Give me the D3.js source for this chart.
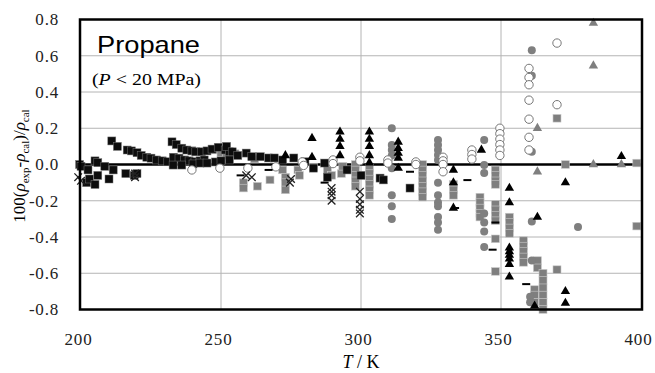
<!DOCTYPE html>
<html>
<head>
<meta charset="utf-8">
<script src="https://cdn.jsdelivr.net/npm/d3@7"></script>
<style>
	body { margin: 0; background: #fff; }
	svg { display: block; }
</style>
</head>
<body>
<div id="chart"></div>
<script>
//axis ticks
let xTicks = [200, 250, 300, 350, 400];
let yTicks = [-0.8, -0.6, -0.4, -0.2, 0.0, 0.2, 0.4, 0.6, 0.8];

//series, [T in K, deviation in %]
let blackSquares = [
	[199.5,0.0],[200.0,-0.01],[202.5,-0.03],[205,0.02],[206,0.01],[208.5,-0.01],[202,-0.10],[203,-0.08],[205,-0.11],
	[206,-0.06],[210,-0.08],[211.5,-0.03],[216,-0.05],[219,-0.06],[220,-0.05],
	[211,0.13],[213,0.10],[216.5,0.08],[218,0.075],[220,0.065],[221.5,0.05],[223.5,0.04],[225,0.035],[227,0.025],[229,0.02],[231,0.015],
	[232.5,0.125],[234,0.11],[236,0.09],[237.8,0.08],[239.6,0.075],[241,0.07],[243,0.07],[245,0.075],[246.8,0.085],[249,0.095],[251.5,0.08],[253,0.07],
	[233,0.04],[235,0.035],[237,0.025],[238.6,0.02],[240.7,0.015],[242.5,0.02],[244,0.025],
	[232.9,-0.003],[236,-0.003],[240,0.003],[242.5,0.008],[245,0.008],[248,0.014],[250,0.02],[253,0.025],
	[252,0.1],[254,0.07],[256,0.05],[259,0.063],[261,0.043],[264,0.043],[267,0.036],[269,0.036],[272,0.025],
	[276,0.036],[280,0.015],[283,-0.02],[287,0.008],[288,-0.07],[295,-0.03],[300,-0.06],[306.8,-0.075],[308,-0.085],[317.5,-0.13]
];
let graySquares = [
	[248,0.08],[250,0.065],[252,0.05],[255,0.06],[262,0.03],
	[258,-0.1],[258,-0.13],[263,-0.12],[267.5,-0.085],[272,-0.03],[273,-0.07],[273,-0.1],[273,-0.14],[277.5,-0.03],[278,-0.06],
	[283,-0.014],[288,-0.03],[289.5,-0.06],[293,-0.05],[293.5,-0.01],
	[298,0.0],[298,-0.03],[298,-0.06],[298,-0.09],[298,-0.12],
	[303,-0.02],[303,-0.05],[303,-0.08],[303,-0.11],[303,-0.14],[303,-0.17],
	[322,0.0],[322,-0.03],[322,-0.06],[322,-0.09],[322,-0.12],[322,-0.15],[322,-0.18],
	[333,-0.11],[333,-0.14],[333,-0.17],
	[342.5,-0.18],[342.5,-0.21],[342.5,-0.24],[342.5,-0.27],[342.5,-0.29],
	[348,-0.03],[348,-0.06],[348,-0.09],[348,-0.11],[348,-0.22],[348,-0.25],[348,-0.28],[348,-0.31],[348,-0.41],[348,-0.59],
	[353,-0.29],[353,-0.32],[353,-0.35],[353,-0.38],
	[358,-0.42],[358,-0.45],[358,-0.48],[358,-0.51],[358,-0.54],
	[363,-0.53],[363,-0.57],[362,-0.69],[362,-0.72],[362,-0.76],
	[365,-0.6],[365,-0.64],[365,-0.68],[365,-0.72],[365,-0.76],[365,-0.8],
	[370,-0.58],[370,0.255],[373,0.0],[398.5,0.008],[398.5,-0.34]
];
let grayCircles = [
	[311,0.2],[311,0.107],[311,0.08],[311,0.05],[311,-0.02],[311,-0.17],[311,-0.23],[311,-0.3],
	[327.5,0.135],[327.5,0.108],[327.5,0.08],[327.5,0.052],[327.5,0.025],[327.5,-0.1],[327.5,-0.17],[327.5,-0.21],
	[327.5,-0.23],[327.5,-0.29],[327.5,-0.32],[327.5,-0.36],
	[344,0.135],[344,-0.003],[344,-0.047],[344,-0.27],[344,-0.32],[344,-0.37],[344,-0.455],
	[361,-0.315],[361,-0.53],[360.4,-0.73],[360.4,-0.76],[361,0.63],[361,0.49],[361,0.07],[377.5,-0.345]
];
let openCircles = [
	[239.6,-0.03],[249.6,-0.02],[259.6,-0.02],[269.6,-0.013],[279,0.014],[279.5,-0.005],[290,0.025],[290,0.005],
	[299.6,0.04],[299.6,0.02],[309.6,0.025],[309.6,0.008],[319.6,0.014],[319.6,0.0],
	[329.3,0.04],[329.3,0.02],[329.3,0.0],[329.3,-0.04],[339.6,0.08],[339.6,0.055],[339.6,0.03],
	[349.6,0.2],[349.6,0.17],[349.6,0.14],[349.6,0.11],[349.6,0.08],[349.6,0.05],
	[360,0.53],[360,0.48],[360,0.44],[360,0.355],[360,0.25],[360,0.15],[360,0.08],[370,0.67],[370,0.33]
];
let blackTriangles = [
	[273,0.05],[282.5,0.145],[282.5,0.04],
	[292.5,0.18],[292.5,0.14],[292.5,0.1],[292.5,0.05],
	[303,0.18],[303,0.14],[303,0.1],[303,0.05],[303,0.01],
	[313.3,0.124],[313.3,0.09],[313.3,0.063],[313.3,0.036],[313.3,-0.02],
	[333,-0.03],[333,-0.1],[333,-0.24],[343,0.08],
	[353,-0.13],[353,-0.21],[353,-0.46],[353,-0.48],[353,-0.5],[353,-0.52],[353,-0.55],[353,-0.62],
	[363,-0.29],[362,-0.78],[373,-0.1],[373,-0.7],[373,-0.765],[393,0.045]
];
let grayTriangles = [
	[383,0.78],[383,0.545],[363,0.2],[383,0.0],[393,0.0],[363,-0.04]
];
let blackCrosses = [
	[199,-0.07],[200,-0.09],[219.3,-0.07],[219.3,-0.05],[259,-0.06],[261,-0.07],[274.6,-0.1],[275,-0.08],
	[289.5,-0.13],[289.5,-0.15],[289.5,-0.17],[289.5,-0.2],
	[299.6,-0.15],[299.6,-0.19],[299.6,-0.22],[299.6,-0.25],[299.6,-0.27]
];
let blackDashes = [
	[257,-0.06],[267,-0.03],[287,-0.1],[317.5,-0.04],[338,-0.086],[333.6,-0.24],[348,-0.32],[347,-0.47],[359,-0.66]
];

let width = 655, height = 373;
let margin = {top: 19.5, right: 14, bottom: 63.5, left: 81};
let serif = "Liberation Serif, Times New Roman, serif";

let svg = d3.select("#chart")
	.append("svg")
	.attr("width", width)
	.attr("height", height);

let xScale = d3.scaleLinear()
	.domain([200, 400])
	.range([margin.left, width - margin.right]);

let yScale = d3.scaleLinear()
	.domain([-0.8, 0.8])
	.range([height - margin.bottom, margin.top]);

//grid
svg.append("g")
	.attr("class", "grid")
	.selectAll("line")
	.data(yTicks.filter(d => d !== 0))
	.join("line")
	.attr("x1", xScale(200)).attr("x2", xScale(400))
	.attr("y1", d => yScale(d)).attr("y2", d => yScale(d))
	.attr("stroke", "#b4b4b4").attr("stroke-width", 1);

svg.append("g")
	.selectAll("line")
	.data(xTicks.slice(1, -1))
	.join("line")
	.attr("x1", d => xScale(d)).attr("x2", d => xScale(d))
	.attr("y1", yScale(0.8)).attr("y2", yScale(-0.8))
	.attr("stroke", "#b4b4b4").attr("stroke-width", 1);

//zero line
svg.append("line")
	.attr("x1", xScale(200)).attr("x2", xScale(400))
	.attr("y1", yScale(0)).attr("y2", yScale(0))
	.attr("stroke", "#000").attr("stroke-width", 2.5);

//axes (labels only, the frame is drawn below)
let yAxis = d3.axisLeft(yScale).tickValues(yTicks).tickSize(0).tickPadding(22)
	.tickFormat(d => d3.format(".1f")(d).replace("−", "-"));
let gy = svg.append("g")
	.attr("transform", `translate(${xScale(200)},0)`)
	.call(yAxis);
gy.select(".domain").remove();
gy.selectAll("text")
	.style("font-family", serif)
	.style("font-size", "17px")
	.style("letter-spacing", "0.8px")
	.attr("fill", "#222");

let xAxis = d3.axisBottom(xScale).tickValues(xTicks).tickFormat(d3.format("d")).tickSize(0);
let gx = svg.append("g")
	.attr("transform", `translate(0,${yScale(-0.8)})`)
	.call(xAxis);
gx.select(".domain").remove();
gx.selectAll("text")
	.attr("y", 23)
	.attr("dx", "-3")
	.style("font-family", serif)
	.style("font-size", "17px")
	.style("letter-spacing", "0.8px")
	.attr("fill", "#222");

let points = svg.append("g").attr("class", "points");

//gray squares
points.selectAll(".gsq")
	.data(graySquares)
	.join("rect")
	.attr("class", "gsq")
	.attr("x", d => xScale(d[0]) - 4).attr("y", d => yScale(d[1]) - 3.8)
	.attr("width", 8).attr("height", 7.6)
	.attr("fill", "#7f7f7f").attr("stroke", "#c8c8c8").attr("stroke-width", 0.6);

//black squares
points.selectAll(".bsq")
	.data(blackSquares)
	.join("rect")
	.attr("class", "bsq")
	.attr("x", d => xScale(d[0]) - 4).attr("y", d => yScale(d[1]) - 4)
	.attr("width", 8).attr("height", 8)
	.attr("fill", "#0d0d0d").attr("stroke", "#777").attr("stroke-width", 0.5);

//gray circles
points.selectAll(".gc")
	.data(grayCircles)
	.join("circle")
	.attr("class", "gc")
	.attr("cx", d => xScale(d[0])).attr("cy", d => yScale(d[1]))
	.attr("r", 4)
	.attr("fill", "#7f7f7f");

//open circles
points.selectAll(".oc")
	.data(openCircles)
	.join("circle")
	.attr("class", "oc")
	.attr("cx", d => xScale(d[0])).attr("cy", d => yScale(d[1]))
	.attr("r", 4.2)
	.attr("fill", "#fff").attr("stroke", "#777").attr("stroke-width", 1);

//triangles
let tri = d3.symbol().type(d3.symbolTriangle).size(38);
points.selectAll(".bt")
	.data(blackTriangles)
	.join("path")
	.attr("class", "bt")
	.attr("d", tri)
	.attr("transform", d => `translate(${xScale(d[0])},${yScale(d[1])})`)
	.attr("fill", "#000");

points.selectAll(".gt")
	.data(grayTriangles)
	.join("path")
	.attr("class", "gt")
	.attr("d", tri)
	.attr("transform", d => `translate(${xScale(d[0])},${yScale(d[1])})`)
	.attr("fill", "#7f7f7f");

//crosses
points.selectAll(".bx")
	.data(blackCrosses)
	.join("path")
	.attr("class", "bx")
	.attr("d", d3.symbol().type(d3.symbolX).size(40))
	.attr("transform", d => `translate(${xScale(d[0])},${yScale(d[1])})`)
	.attr("fill", "none").attr("stroke", "#222").attr("stroke-width", 1.3);

//dashes
points.selectAll(".bd")
	.data(blackDashes)
	.join("line")
	.attr("class", "bd")
	.attr("x1", d => xScale(d[0]) - 4).attr("x2", d => xScale(d[0]) + 4)
	.attr("y1", d => yScale(d[1])).attr("y2", d => yScale(d[1]))
	.attr("stroke", "#000").attr("stroke-width", 2);

//frame
svg.append("rect")
	.attr("x", xScale(200) - 1).attr("y", yScale(0.8))
	.attr("width", xScale(400) - xScale(200) + 2)
	.attr("height", yScale(-0.8) - yScale(0.8))
	.attr("fill", "none").attr("stroke", "#000").attr("stroke-width", 2.5);

//titles
svg.append("text")
	.attr("x", 97).attr("y", 53)
	.attr("font-family", "Liberation Sans, Arial, sans-serif")
	.attr("font-size", 24)
	.attr("textLength", 103)
	.attr("lengthAdjust", "spacingAndGlyphs")
	.text("Propane");

let sub = svg.append("text")
	.attr("x", 92).attr("y", 85)
	.attr("font-family", serif)
	.attr("font-size", 17)
	.attr("textLength", 109)
	.attr("lengthAdjust", "spacingAndGlyphs");
sub.append("tspan").text("(");
sub.append("tspan").attr("font-style", "italic").text("P");
sub.append("tspan").text("  < 20 MPa)");

let xt = svg.append("text")
	.attr("x", 361).attr("y", 368)
	.attr("text-anchor", "middle")
	.attr("font-family", serif)
	.attr("font-size", 18);
xt.append("tspan").attr("font-style", "italic").text("T");
xt.append("tspan").text(" / K");

let yt = svg.append("text")
	.attr("transform", "translate(25,166) rotate(-90)")
	.attr("text-anchor", "middle")
	.attr("font-family", serif)
	.attr("font-size", 17);
yt.append("tspan").text("100(");
yt.append("tspan").attr("font-style", "italic").text("ρ");
yt.append("tspan").attr("font-size", 11).attr("dy", 4).text("exp");
yt.append("tspan").attr("dy", -4).text("-");
yt.append("tspan").attr("font-style", "italic").text("ρ");
yt.append("tspan").attr("font-size", 11).attr("dy", 4).text("cal");
yt.append("tspan").attr("dy", -4).text(")/");
yt.append("tspan").attr("font-style", "italic").text("ρ");
yt.append("tspan").attr("font-size", 11).attr("dy", 4).text("cal");
</script>
</body>
</html>
